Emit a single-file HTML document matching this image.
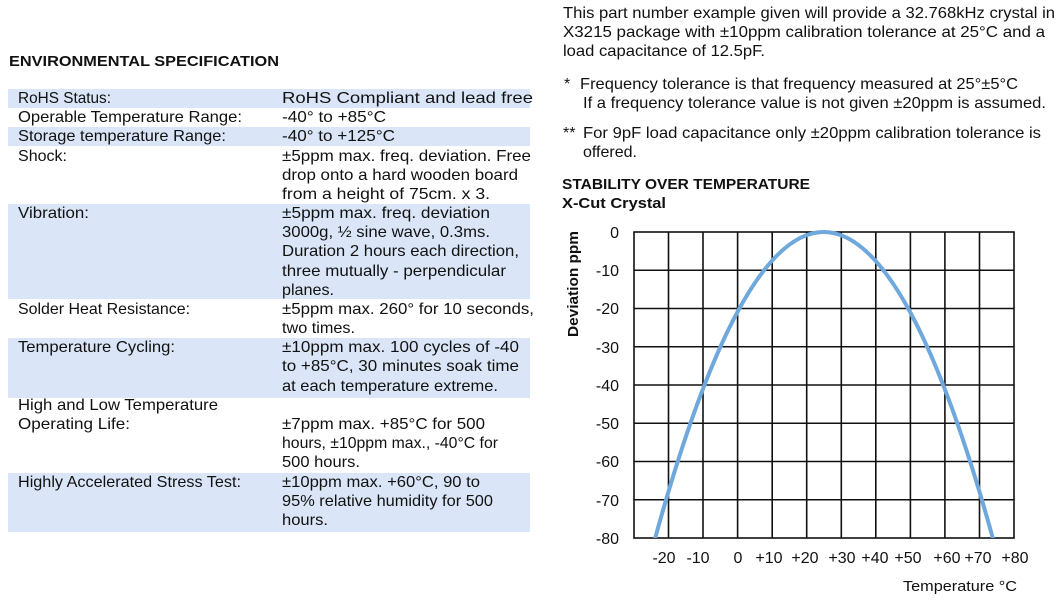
<!DOCTYPE html>
<html><head><meta charset="utf-8"><style>
html,body{margin:0;padding:0;background:#fff;}
svg{display:block;}
text{font-family:"Liberation Sans","DejaVu Sans",sans-serif;fill:#111;}
</style></head><body>
<svg width="1062" height="605" viewBox="0 0 1062 605" xmlns="http://www.w3.org/2000/svg">
<g fill="#dae6f7">
<rect x="8" y="89" width="522" height="19"/>
<rect x="8" y="127" width="522" height="19"/>
<rect x="8" y="204" width="522" height="95"/>
<rect x="8" y="338" width="522" height="60"/>
<rect x="8" y="473" width="522" height="59"/>
</g>
<text x="9" y="66" font-size="15" font-weight="bold" textLength="270" lengthAdjust="spacingAndGlyphs">ENVIRONMENTAL SPECIFICATION</text>
<g font-size="16">
<text x="18" y="103" textLength="93" lengthAdjust="spacingAndGlyphs">RoHS Status:</text>
<text x="18" y="122" textLength="224" lengthAdjust="spacingAndGlyphs">Operable Temperature Range:</text>
<text x="18" y="141" textLength="208" lengthAdjust="spacingAndGlyphs">Storage temperature Range:</text>
<text x="18" y="161" textLength="49" lengthAdjust="spacingAndGlyphs">Shock:</text>
<text x="18" y="218" textLength="71" lengthAdjust="spacingAndGlyphs">Vibration:</text>
<text x="18" y="314" textLength="172" lengthAdjust="spacingAndGlyphs">Solder Heat Resistance:</text>
<text x="18" y="352" textLength="157" lengthAdjust="spacingAndGlyphs">Temperature Cycling:</text>
<text x="18" y="410" textLength="200" lengthAdjust="spacingAndGlyphs">High and Low Temperature</text>
<text x="18" y="429" textLength="112" lengthAdjust="spacingAndGlyphs">Operating Life:</text>
<text x="18" y="487" textLength="223" lengthAdjust="spacingAndGlyphs">Highly Accelerated Stress Test:</text>

<text x="282" y="103" textLength="251" lengthAdjust="spacingAndGlyphs">RoHS Compliant and lead free</text>
<text x="282" y="122" textLength="104" lengthAdjust="spacingAndGlyphs">-40° to +85°C</text>
<text x="282" y="141" textLength="113" lengthAdjust="spacingAndGlyphs">-40° to +125°C</text>
<text x="282" y="161" textLength="249" lengthAdjust="spacingAndGlyphs">±5ppm max. freq. deviation. Free</text>
<text x="282" y="180" textLength="236" lengthAdjust="spacingAndGlyphs">drop onto a hard wooden board</text>
<text x="282" y="199" textLength="208" lengthAdjust="spacingAndGlyphs">from a height of 75cm. x 3.</text>
<text x="282" y="218" textLength="208" lengthAdjust="spacingAndGlyphs">±5ppm max. freq. deviation</text>
<text x="282" y="237" textLength="208" lengthAdjust="spacingAndGlyphs">3000g, ½ sine wave, 0.3ms.</text>
<text x="282" y="256" textLength="237" lengthAdjust="spacingAndGlyphs">Duration 2 hours each direction,</text>
<text x="282" y="276" textLength="224" lengthAdjust="spacingAndGlyphs">three mutually - perpendicular</text>
<text x="282" y="295" textLength="52" lengthAdjust="spacingAndGlyphs">planes.</text>
<text x="282" y="314" textLength="252" lengthAdjust="spacingAndGlyphs">±5ppm max. 260° for 10 seconds,</text>
<text x="282" y="333" textLength="73" lengthAdjust="spacingAndGlyphs">two times.</text>
<text x="282" y="352" textLength="237" lengthAdjust="spacingAndGlyphs">±10ppm max. 100 cycles of -40</text>
<text x="282" y="371" textLength="237" lengthAdjust="spacingAndGlyphs">to +85°C, 30 minutes soak time</text>
<text x="282" y="391" textLength="216" lengthAdjust="spacingAndGlyphs">at each temperature extreme.</text>
<text x="282" y="429" textLength="203" lengthAdjust="spacingAndGlyphs">±7ppm max. +85°C for 500</text>
<text x="282" y="448" textLength="216" lengthAdjust="spacingAndGlyphs">hours, ±10ppm max., -40°C for</text>
<text x="282" y="467" textLength="78" lengthAdjust="spacingAndGlyphs">500 hours.</text>
<text x="282" y="487" textLength="198" lengthAdjust="spacingAndGlyphs">±10ppm max. +60°C, 90 to</text>
<text x="282" y="506" textLength="211" lengthAdjust="spacingAndGlyphs">95% relative humidity for 500</text>
<text x="282" y="525" textLength="46" lengthAdjust="spacingAndGlyphs">hours.</text>
</g>
<g font-size="16">
<text x="563" y="18" textLength="492" lengthAdjust="spacingAndGlyphs">This part number example given will provide a 32.768kHz crystal in</text>
<text x="563" y="37" textLength="482" lengthAdjust="spacingAndGlyphs">X3215 package with ±10ppm calibration tolerance at 25°C and a</text>
<text x="563" y="56" textLength="202" lengthAdjust="spacingAndGlyphs">load capacitance of 12.5pF.</text>
<text x="564" y="89">*</text>
<text x="580" y="89" textLength="438" lengthAdjust="spacingAndGlyphs">Frequency tolerance is that frequency measured at 25°±5°C</text>
<text x="583" y="108" textLength="463" lengthAdjust="spacingAndGlyphs">If a frequency tolerance value is not given ±20ppm is assumed.</text>
<text x="563" y="138">**</text>
<text x="583" y="138" textLength="458" lengthAdjust="spacingAndGlyphs">For 9pF load capacitance only ±20ppm calibration tolerance is</text>
<text x="583" y="157" textLength="54" lengthAdjust="spacingAndGlyphs">offered.</text>
</g>
<text x="562" y="189" font-size="15" font-weight="bold" textLength="248" lengthAdjust="spacingAndGlyphs">STABILITY OVER TEMPERATURE</text>
<text x="562" y="208" font-size="15" font-weight="bold" textLength="104" lengthAdjust="spacingAndGlyphs">X-Cut Crystal</text>
<g stroke="#111" stroke-width="1.6" fill="none">
<rect x="634" y="232" width="380" height="306"/>
<path d="M668.5 232V538M703 232V538M737.6 232V538M772.2 232V538M806.7 232V538M841.3 232V538M875.8 232V538M910.4 232V538M944.9 232V538M979.5 232V538"/>
<path d="M634 270.25H1014M634 308.5H1014M634 346.75H1014M634 385H1014M634 423.25H1014M634 461.5H1014M634 499.75H1014"/>
</g>
<clipPath id="c"><rect x="634" y="225" width="380" height="313"/></clipPath>
<path clip-path="url(#c)" d="M651.3 552.3Q823.4 -88.3 996.7 552.3" stroke="#6fa8dc" stroke-width="4" fill="none"/>
<g font-size="16" text-anchor="end">
<text x="619" y="238">0</text>
<text x="619" y="276">-10</text>
<text x="619" y="314">-20</text>
<text x="619" y="353">-30</text>
<text x="619" y="391">-40</text>
<text x="619" y="429">-50</text>
<text x="619" y="467">-60</text>
<text x="619" y="506">-70</text>
<text x="619" y="544">-80</text>
</g>
<text transform="translate(578,284) rotate(-90)" font-size="15" font-weight="bold" text-anchor="middle" textLength="106" lengthAdjust="spacingAndGlyphs">Deviation ppm</text>
<g font-size="16" text-anchor="middle">
<text x="664" y="563">-20</text>
<text x="698" y="563">-10</text>
<text x="738" y="563">0</text>
<text x="769" y="563">+10</text>
<text x="805" y="563">+20</text>
<text x="842" y="563">+30</text>
<text x="875" y="563">+40</text>
<text x="908" y="563">+50</text>
<text x="947" y="563">+60</text>
<text x="978" y="563">+70</text>
<text x="1015" y="563">+80</text>
</g>
<text x="960" y="591" font-size="15" text-anchor="middle" textLength="114" lengthAdjust="spacingAndGlyphs">Temperature °C</text>
</svg>
</body></html>
